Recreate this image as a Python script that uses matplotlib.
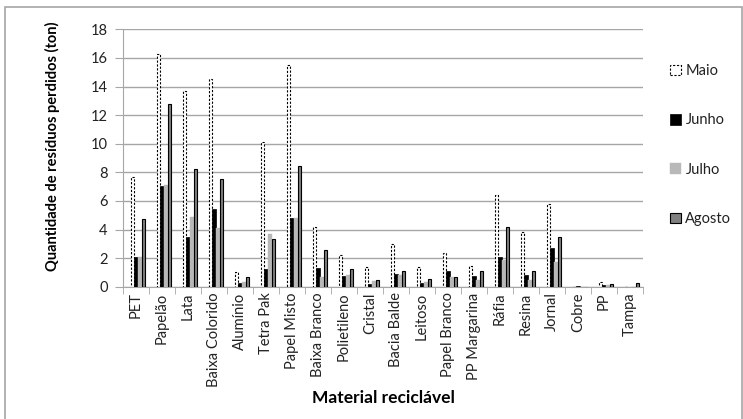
import numpy as np
import matplotlib
matplotlib.use('agg')
import matplotlib.pyplot as plt
from matplotlib.patches import Rectangle, Patch

plt.rcParams['font.family'] = ['Lato', 'DejaVu Sans']

materiais = ['PET', 'Papelão', 'Lata', 'Baixa Colorido', 'Alumínio', 'Tetra Pak',
             'Papel Misto', 'Baixa Branco', 'Polietileno', 'Cristal', 'Bacia Balde',
             'Leitoso', 'Papel Branco', 'PP Margarina', 'Ráfia', 'Resina', 'Jornal',
             'Cobre', 'PP', 'Tampa']
maio = [7.7, 16.3, 13.7, 14.5, 1.0, 10.1, 15.5, 4.2, 2.2, 1.35, 3.0, 1.4, 2.35, 1.45,
        6.4, 3.8, 5.8, 0.0, 0.35, 0.0]
junho = [2.05, 7.05, 3.5, 5.4, 0.28, 1.22, 4.8, 1.3, 0.75, 0.22, 0.92, 0.28, 1.1, 0.75,
         2.05, 0.85, 2.7, 0.05, 0.1, 0.0]
julho = [2.05, 7.1, 4.9, 4.1, 0.3, 3.7, 4.8, 0.7, 0.8, 0.4, 0.85, 0.3, 0.65, 0.5,
         1.85, 0.45, 1.7, 0.0, 0.1, 0.0]
agosto = [4.7, 12.8, 8.25, 7.5, 0.65, 3.35, 8.45, 2.6, 1.22, 0.45, 1.1, 0.52, 0.65, 1.1,
          4.15, 1.1, 3.5, 0.0, 0.17, 0.28]
meses = ['Maio', 'Junho', 'Julho', 'Agosto']

grid_col = '#a6a6a6'

fig = plt.figure(figsize=(7.43, 4.19), dpi=100)
# moldura cinza da área do gráfico
fig.patches.append(Rectangle((5 / 743, -0.05), 737 / 743, 1 - 7 / 419 + 0.05,
                             transform=fig.transFigure, fill=False,
                             edgecolor=grid_col, lw=1.2))
ax = fig.add_axes([123 / 743, 1 - 286.7 / 419, 520 / 743, 257.4 / 419])

x = np.arange(len(materiais))
w = 0.14
off = 0.08
estilos = [
    dict(facecolor='white', edgecolor='black', linestyle=(0, (2, 1.5)), linewidth=0.8),
    dict(facecolor='black', edgecolor='black', linewidth=0.5),
    dict(facecolor='#b8b8b8', edgecolor='#b8b8b8', linewidth=0.3),
    dict(facecolor='#808080', edgecolor='black', linewidth=0.8),
]
for i, (vals, st) in enumerate(zip([maio, junho, julho, agosto], estilos)):
    ax.bar(x + off + (i - 1.5) * w, vals, width=w, label=meses[i], zorder=3, **st)

ax.set_xlim(-0.5, len(materiais) - 0.5)
ax.set_ylim(0, 18)
ax.set_yticks(np.arange(0, 19, 2))
ax.yaxis.grid(True, color=grid_col, lw=1, zorder=0)
ax.set_axisbelow(True)

ax.set_xticks(x)
ax.set_xticklabels(materiais, rotation=90, fontsize=10.5, color='#222222')
ax.set_xticks(np.arange(-0.5, len(materiais), 1), minor=True)
ax.tick_params(axis='x', which='major', length=0, pad=4)
ax.tick_params(axis='x', which='minor', length=5, color=grid_col)
ax.tick_params(axis='y', length=6, color=grid_col, labelsize=10.5, labelcolor='#222222', pad=5)

for s in ['top', 'right']:
    ax.spines[s].set_visible(False)
for s in ['left', 'bottom']:
    ax.spines[s].set_color(grid_col)

ax.set_ylabel('Quantidade de resíduos perdidos (ton)', fontsize=10.5, fontweight='bold')
ax.yaxis.set_label_coords((52 - 123) / 520, (286.7 - 146) / 257.4)
ax.set_xlabel('Material reciclável', fontsize=12.5, fontweight='bold')
ax.xaxis.set_label_coords(0.5, (286.7 - 398) / 257.4)
ax.xaxis.label.set_va('center')
ax.yaxis.label.set_va('center')

handles = [Patch(**estilos[0]), Patch(**estilos[1]), Patch(**estilos[2]), Patch(**estilos[3])]
fig.legend(handles, meses, loc='center left', bbox_to_anchor=(0.892, 1 - 145 / 419),
           frameon=False, fontsize=10.5, handlelength=0.75, handleheight=0.75,
           handletextpad=0.3, labelspacing=2.42, borderpad=0, labelcolor='#222222')

fig.savefig('out.png', dpi=100)
